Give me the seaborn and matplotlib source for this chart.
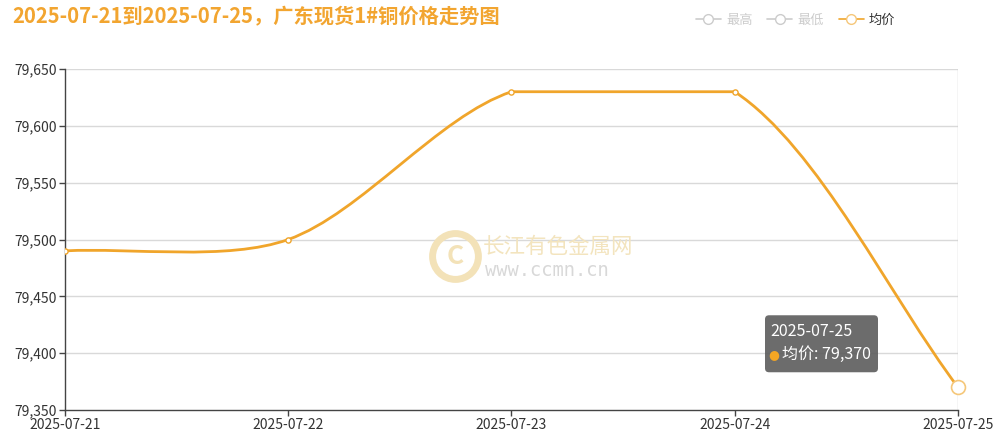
import numpy as np
import pandas as pd
import matplotlib
matplotlib.use('Agg')
import matplotlib.pyplot as plt
import seaborn as sns
from matplotlib.path import Path
from matplotlib.patches import PathPatch, FancyBboxPatch
from matplotlib.lines import Line2D
from matplotlib.transforms import IdentityTransform

dates = ['2025-07-21', '2025-07-22', '2025-07-23', '2025-07-24', '2025-07-25']
avg_price = [79490, 79500, 79630, 79630, 79370]
y_ticks = [79350, 79400, 79450, 79500, 79550, 79600, 79650]
legend_names = ['最高', '最低', '均价']

orange = '#F0A52B'
title_color = '#F2A530'

sns.set_theme(style='white')
plt.rcParams['font.family'] = ['Noto Sans CJK SC', 'DejaVu Sans']
plt.rcParams['axes.unicode_minus'] = False

df = pd.DataFrame({'date': dates, 'price': avg_price})
df['idx'] = np.arange(len(df))

fig = plt.figure(figsize=(9.99, 4.42), dpi=100)
ax = fig.add_axes([65 / 999, 1 - 410 / 442, (958 - 65) / 999, (410 - 69) / 442])
ax.set_xlim(0, len(dates) - 1)
ax.set_ylim(y_ticks[0], y_ticks[-1])

# horizontal split lines
for v in y_ticks[1:]:
    ax.axhline(v, color='#d9d9d9', lw=1, zorder=0)

# smooth curve (echarts-like bezier, smooth=0.3, bounded by data box)
pts = ax.transData.transform(np.column_stack([df['idx'], df['price']]))
smooth = 0.3
n = len(pts)
lo = pts.min(axis=0)
hi = pts.max(axis=0)
cps = []
for i in range(n):
    p = pts[i]
    prev = pts[i - 1] if i > 0 else p
    nxt = pts[i + 1] if i < n - 1 else p
    v = nxt - prev
    d0 = np.hypot(*(p - prev))
    d1 = np.hypot(*(p - nxt))
    s = d0 + d1
    if s == 0:
        s = 1
    c_in = np.clip(p - v * smooth * d0 / s, lo, hi)
    c_out = np.clip(p + v * smooth * d1 / s, lo, hi)
    cps.append((c_in, c_out))
verts = [pts[0]]
codes = [Path.MOVETO]
for i in range(n - 1):
    verts += [cps[i][1], cps[i + 1][0], pts[i + 1]]
    codes += [Path.CURVE4] * 3
verts = ax.transData.inverted().transform(np.array(verts))
ax.add_patch(PathPatch(Path(verts, codes), facecolor='none', edgecolor=orange,
                       lw=2, zorder=3, capstyle='round', joinstyle='round'))

# axis pointer line at hovered point
ax.axvline(df['idx'].iloc[-1], color='#cccccc', lw=1, zorder=1)

sns.scatterplot(data=df.iloc[:-1], x='idx', y='price', ax=ax, s=14,
                facecolor='white', edgecolor=orange, linewidth=1, zorder=4)
sns.scatterplot(data=df.iloc[-1:], x='idx', y='price', ax=ax, s=100,
                facecolor='white', edgecolor='#F5C77A', linewidth=1.2, zorder=4,
                clip_on=False)

ax.set_xticks(df['idx'])
ax.set_xticklabels(dates)
ax.set_yticks(y_ticks)
ax.set_yticklabels([f'{v:,}' for v in y_ticks])
ax.set_xlabel('')
ax.set_ylabel('')
ax.tick_params(axis='both', which='both', length=4, width=1, color='#444444',
               labelsize=10, labelcolor='#333333', pad=2, bottom=True, left=True)
for side in ['top', 'right']:
    ax.spines[side].set_visible(False)
for side in ['left', 'bottom']:
    ax.spines[side].set_color('#444444')
    ax.spines[side].set_linewidth(1)
ax.grid(False)

# watermark
ax.plot([0.4367], [0.4516], transform=ax.transAxes, marker='o', markersize=33,
        markerfacecolor='none', markeredgecolor='#F3E2B8', markeredgewidth=5, zorder=0.5)
ax.text(0.4367, 0.4516, 'C', transform=ax.transAxes, fontsize=19, fontweight='bold',
        color='#F3E2B8', ha='center', va='center', zorder=0.5)
ax.text(0.468, 0.478, '长江有色金属网', transform=ax.transAxes, fontsize=15.5,
        color='#F3E4BE', ha='left', va='center', zorder=0.5)
ax.text(0.470, 0.408, 'www.ccmn.cn', transform=ax.transAxes, fontsize=13.5,
        family='DejaVu Sans Mono', color='#D8D8D8', ha='left', va='center', zorder=0.5)

# tooltip
last_x = df['idx'].iloc[-1]
last_y = df['price'].iloc[-1]
px = ax.transData.transform((last_x, last_y))
tip_box = FancyBboxPatch((px[0] - 193, px[1] + 15), 113, 57,
                         boxstyle='round,pad=0,rounding_size=4',
                         transform=IdentityTransform(), facecolor='#5f5f5f',
                         edgecolor='none', alpha=0.92, zorder=10, clip_on=False)
ax.add_patch(tip_box)
ax.annotate('2025-07-25', xy=(last_x, last_y), xytext=(-188, 56),
            textcoords='offset pixels', color='white', fontsize=11.5,
            ha='left', va='center', annotation_clip=False, zorder=11)
ax.annotate('●', xy=(last_x, last_y), xytext=(-190, 33), textcoords='offset pixels',
            color='#F5A623', fontsize=9, ha='left', va='center', annotation_clip=False,
            zorder=11, family='DejaVu Sans')
ax.annotate('均价: ' + f'{last_y:,}', xy=(last_x, last_y), xytext=(-176, 33),
            textcoords='offset pixels', color='white', fontsize=11.5, ha='left',
            va='center', annotation_clip=False, zorder=11)

# title
fig.text(12 / 999, 1 - 17 / 442, '2025-07-21到2025-07-25，广东现货1#铜价格走势图',
         fontsize=14.6, fontweight='bold', color=title_color, ha='left', va='center')

# legend
handles = [
    Line2D([0], [0], color='#cccccc', lw=1.2, marker='o', markersize=7,
           markerfacecolor='white', markeredgecolor='#cccccc'),
    Line2D([0], [0], color='#cccccc', lw=1.2, marker='o', markersize=7,
           markerfacecolor='white', markeredgecolor='#cccccc'),
    Line2D([0], [0], color=orange, lw=1.2, marker='o', markersize=7,
           markerfacecolor='white', markeredgecolor='#F5C77A'),
]
leg = fig.legend(handles, legend_names, loc='upper left',
                 bbox_to_anchor=(684 / 999, 1 - 2 / 442), ncol=3, frameon=False,
                 fontsize=9.5, handlelength=1.9, handletextpad=0.4, columnspacing=1.1)
for t, c in zip(leg.get_texts(), ['#cccccc', '#cccccc', '#333333']):
    t.set_color(c)

fig.savefig('out.png', dpi=100)
